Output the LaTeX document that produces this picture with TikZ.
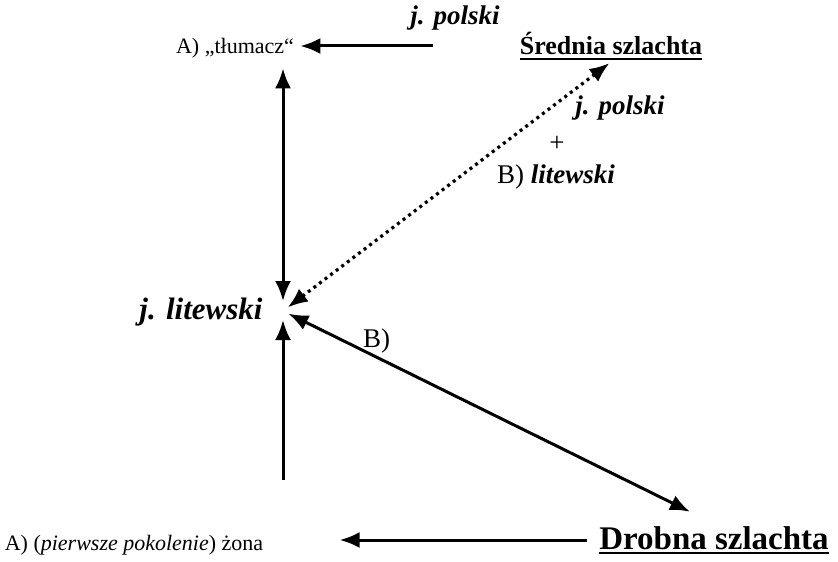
\documentclass[tikz,border=0pt]{standalone}
\usepackage{fontspec}
\setmainfont{Liberation Serif}
\usetikzlibrary{arrows.meta,positioning,calc}
\newcommand{\thickul}[1]{\setbox0=\hbox{#1}\leavevmode\rlap{\rule[-2.4pt]{\wd0}{0.9pt}}\box0}
\tikzset{
  lbl/.style={inner sep=1pt, font=\fontsize{11}{13}\selectfont},
  big/.style={inner sep=1pt, font=\fontsize{13.5}{15}\selectfont},
  ar/.style={-{Latex[length=10pt,width=8pt]}, line width=1.5pt},
  dar/.style={{Latex[length=10pt,width=8pt]}-{Latex[length=10pt,width=8pt]}, line width=1.5pt},
  dots/.style={dar, dotted, line width=1.6pt},
}

\begin{document}
\begin{tikzpicture}[x=0.5pt, y=-0.5pt]
\useasboundingbox (0,0) rectangle (838,561);
% nodes
\node[lbl] (tlumacz) at (235,48) {A) „tłumacz“};
\node[big, font=\fontsize{13}{15}\selectfont] (srednia) at (611,46) {\thickul{\textbf{Średnia szlachta}}};
\node[big, font=\fontsize{15.5}{17}\selectfont] (jlit) at (201,312) {\textbf{\textit{j. litewski}}};
\coordinate (hub) at (283,311);
\node[lbl] (zona) at (134,545) {A) (\textit{pierwsze pokolenie}) żona};
\node[big, font=\fontsize{16.5}{18}\selectfont] (drobna) at (714,540) {\thickul{\textbf{Drobna szlachta}}};
\node[big] (pol1) at (455,18) {\textbf{\textit{j. polski}}};
\node[big] (pol2) at (620,108) {\textbf{\textit{j. polski}}};
\node[big] (plus) at (557,144) {+};
\node[big] (litB) at (556,177) {B) \textbf{\textit{litewski}}};
\coordinate (dtip) at ($(drobna.north)+(-24,-12)$);
\coordinate (wife) at ($(zona.north -| hub)+(0,-53)$);

% arrows
\draw[ar, shorten <=42pt, shorten >=2pt] (srednia.west) -- (srednia.west -| tlumacz.east);
\draw[dar, shorten <=4pt, shorten >=5pt] (tlumacz.south -| hub) -- (hub);
\draw[dots, shorten <=3pt, shorten >=1pt] (hub) -- (srednia.south);
\draw[dar, shorten <=3pt] (hub) -- node[big, pos=0.23, above] (lblB) {B)} (dtip);
\draw[ar, shorten >=4.5pt] (wife) -- (hub);
\draw[ar, shorten <=5pt, shorten >=37pt] (drobna.west) -- (drobna.west -| zona.east);
\end{tikzpicture}
\end{document}
